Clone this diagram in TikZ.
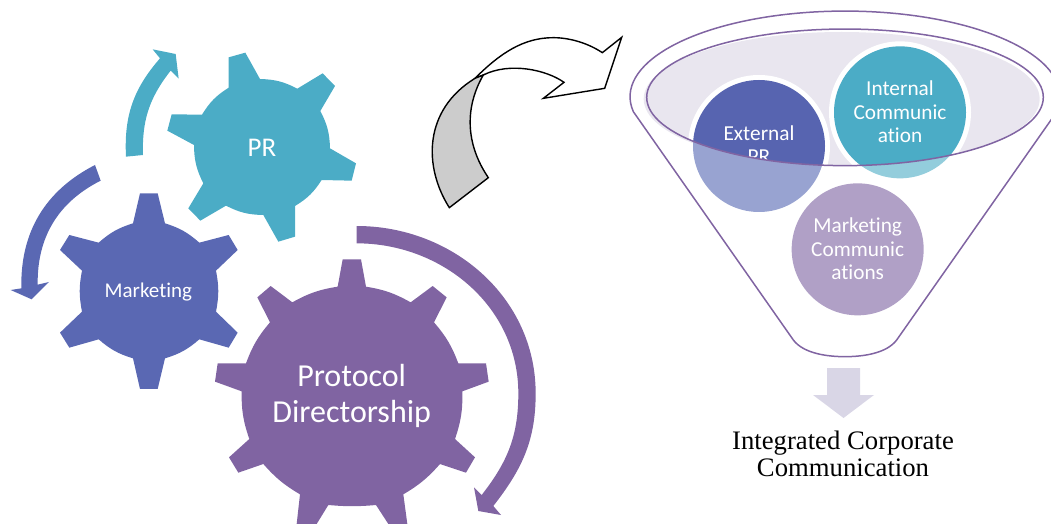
\documentclass[tikz,border=0pt]{standalone}
\usepackage{fontspec}
\setmainfont[Ligatures=NoCommon]{Carlito}
\newfontfamily\serifcap{Liberation Serif}
\definecolor{tealc}{HTML}{4BACC6}
\definecolor{bluec}{HTML}{5A68B3}
\definecolor{purplec}{HTML}{8064A2}
\definecolor{bluedark}{HTML}{5764B0}
\definecolor{bluelight}{HTML}{98A3D1}
\definecolor{teallight}{HTML}{93CDDC}
\definecolor{purplelight}{HTML}{B0A0C6}
\definecolor{rimfill}{HTML}{E9E6EF}
\definecolor{downc}{HTML}{D9D6E6}
\tikzset{
  zoomA/.style={x=0.33333pt,y=-0.33333pt,yshift=-30pt},
  zoomB/.style={x=0.33333pt,y=-0.33333pt,xshift=200pt,yshift=-210pt},
  zoomC/.style={x=0.33333pt,y=-0.33333pt,xshift=620pt,yshift=-10pt},
  zoomD/.style={x=0.33333pt,y=-0.33333pt,xshift=420pt,yshift=-20pt},
  lab/.style={text=white,align=center,inner sep=0pt,anchor=base},
  fs/.style={font=\fontsize{#1}{#1}\selectfont},
  funnelline/.style={draw=purplec,line width=1.5pt,line join=round},
  blackline/.style={draw=black,line width=1.4pt,line join=miter}
}
\begin{document}
\begin{tikzpicture}[x=1pt,y=-1pt]
\useasboundingbox (0,0) rectangle (1051,524);
% PR gear and teal arrow
\begin{scope}[zoomA]
\fill[tealc] (686,82) -- (736,68) -- (780,147) to[bend left=13] (892,176) -- (968,130) -- (1005,168) -- (961,243) to[bend left=13] (990,355) -- (1068,400) -- (1055,452) -- (965,450) to[bend left=13] (885,528) -- (885,620) -- (835,635) -- (790,555) to[bend left=13] (678,527) -- (601,572) -- (565,535) -- (610,460) to[bend left=13] (582,345) -- (502,302) -- (515,253) -- (606,254) to[bend left=13] (686,173) -- cycle;
\fill[tealc] (378,380) to[bend left=22] (480,85) -- (458,58) -- (527,72) -- (536,146) -- (512,122) to[bend right=20] (429,375) -- cycle;
\node[lab,fs=27] (pr) at (786,380) {PR};
% Marketing gear and blue arrow
\fill[bluec] (420,490) -- (473,490) -- (495,580) to[bend left=12] (598,638) -- (686,615) -- (713,660) -- (648,722) to[bend left=11] (648,845) -- (713,908) -- (686,953) -- (598,928) to[bend left=12] (495,985) -- (473,1077) -- (420,1077) -- (399,985) to[bend left=12] (296,928) -- (208,953) -- (180,908) -- (246,845) to[bend left=11] (246,722) -- (180,660) -- (208,615) -- (296,638) to[bend left=12] (399,580) -- cycle;
\fill[bluec] (285,405) to[bend right=32] (64,775) -- (32,780) -- (95,808) -- (147,756) -- (113,764) to[bend left=32] (302,452) -- cycle;
\node[lab,fs=21] (mk) at (445,802) {Marketing};
\end{scope}
% Protocol gear and purple arrow
\begin{scope}[zoomB]
\fill[purplec] (428,148) -- (483,148) -- (498,230) to[bend left=10] (632,277) -- (698,228) -- (740,262) -- (702,337) to[bend left=10] (775,460) -- (858,460) -- (866,515) -- (787,544) to[bend left=10] (765,687) -- (825,742) -- (798,788) -- (720,762) to[bend left=9] (610,853) -- (622,942) -- (565,942) -- (528,885) to[bend left=5] (385,885) -- (350,942) -- (290,942) -- (300,853) to[bend left=9] (190,762) -- (115,788) -- (87,742) -- (148,687) to[bend left=10] (125,544) -- (45,515) -- (53,460) -- (138,460) to[bend left=10] (210,337) -- (172,262) -- (212,228) -- (277,277) to[bend left=10] (413,230) -- cycle;
\fill[purplec] (470,48) to[out=0,in=90] (1007,550) to[out=-90,in=52] (880,888) -- (903,915) -- (835,903) -- (822,832) -- (845,855) to[out=52,in=-90] (955,550) to[out=90,in=0] (470,100) -- cycle;
\node[lab,fs=32] (prot) at (455,530) {Protocol};
\node[lab,fs=32] (dir) at (455,636) {Directorship};
\end{scope}
% Curved black arrow
\begin{scope}[zoomD]
\draw[blackline,fill=white] (165,175) .. controls (240,100) and (310,53) .. (400,53) .. controls (450,53) and (505,70) .. (547,98) -- (605,52) -- (554,205) -- (370,235) -- (432,187) .. controls (380,150) and (270,125) .. (190,165) -- cycle;
\draw[blackline,fill=black!20] (88,563) .. controls (10,440) and (10,270) .. (165,175) -- (190,165) .. controls (135,260) and (135,370) .. (205,473) -- cycle;
\end{scope}
% Funnel
\begin{scope}[zoomC]
\fill[rimfill] (665,267) ellipse [x radius=198pt,y radius=67pt];
\fill[bluelight] (417,408) circle [radius=66pt];
\fill[teallight] (840,307) circle [radius=66pt];
\fill[purplelight] (713,718) circle [radius=66pt];
\begin{scope}
\clip (675,262) ellipse [x radius=198.3pt,y radius=68.3pt];
\fill[white] (417,408) circle [radius=71pt];
\fill[white] (840,307) circle [radius=71pt];
\fill[bluedark] (417,408) circle [radius=66pt];
\fill[tealc] (840,307) circle [radius=66pt];
\node[lab,fs=21.3] (ext1) at (417,392) {External};
\node[lab,fs=21.3] (ext2) at (417,462) {PR};
\end{scope}
\node[lab,fs=21.3] (int1) at (840,257) {Internal};
\node[lab,fs=21.3] (int2) at (840,328) {Communic};
\node[lab,fs=21.3] (int3) at (840,398) {ation};
\node[lab,fs=21.3] (mc1) at (713,667) {Marketing};
\node[lab,fs=21.3] (mc2) at (713,739) {Communic};
\node[lab,fs=21.3] (mc3) at (713,808) {ations};
\draw[funnelline] (675,262) ellipse [x radius=198.3pt,y radius=68.3pt];
\draw[funnelline] (40,305) arc [start angle=190,end angle=-10,x radius=215pt,y radius=85.7pt] -- (830,990) .. controls (800,1030) and (730,1040) .. (675,1040) .. controls (620,1040) and (550,1030) .. (520,990) -- cycle;
\end{scope}
% Down arrow and caption
\fill[downc] (827,368) -- (860,368) -- (860,395) -- (874,395) -- (843.5,418) -- (813,395) -- (827,395) -- cycle;
\node[inner sep=0pt,align=center,font=\serifcap\fontsize{26.7}{27}\selectfont] (cap) at (843,454) {Integrated Corporate\\Communication};
\end{tikzpicture}
\end{document}
